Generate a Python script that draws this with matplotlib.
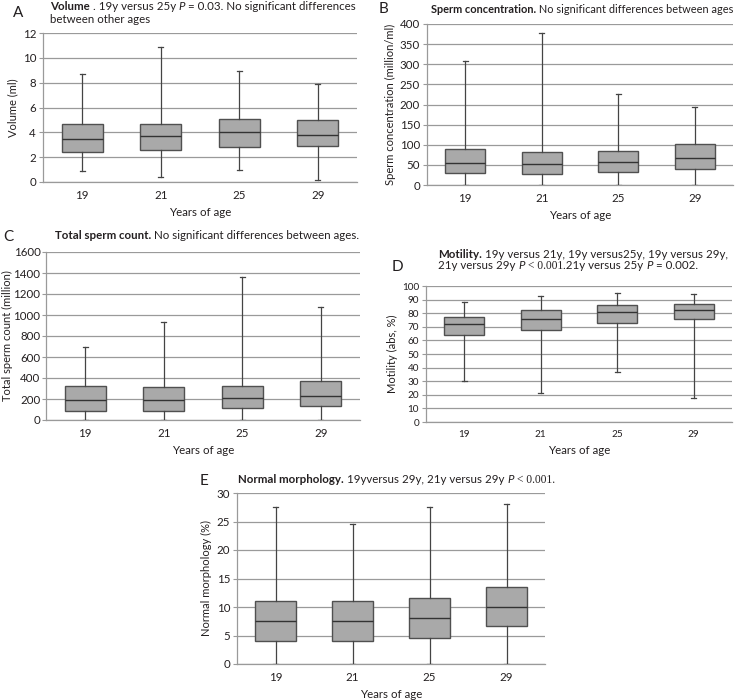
import matplotlib
matplotlib.use("Agg")
import matplotlib.pyplot as plt


# ==========================================================
# Data
# ==========================================================

ages = ["19", "21", "25", "29"]

# each list: whisker low, Q1, median, Q3, whisker high
volume_19 = [0.9, 2.4, 3.5, 4.7, 8.7]
volume_21 = [0.4, 2.6, 3.7, 4.7, 10.9]
volume_25 = [1.0, 2.8, 4.0, 5.1, 8.9]
volume_29 = [0.15, 2.9, 3.8, 5.0, 7.9]

conc_19 = [0, 30, 55, 89, 308]
conc_21 = [0, 28, 52, 82, 377]
conc_25 = [0, 32, 57, 85, 225]
conc_29 = [0, 40, 67, 102, 195]

count_19 = [0, 85, 190, 325, 700]
count_21 = [0, 90, 190, 315, 930]
count_25 = [0, 110, 210, 325, 1365]
count_29 = [0, 135, 225, 370, 1075]

motility_19 = [30, 64, 72, 77, 88]
motility_21 = [21, 68, 76, 82, 93]
motility_25 = [37, 73, 81, 86, 95]
motility_29 = [18, 76, 82, 87, 94]

morph_19 = [0, 4.0, 7.5, 11.0, 27.5]
morph_21 = [0, 4.0, 7.5, 11.0, 24.5]
morph_25 = [0, 4.5, 8.0, 11.5, 27.5]
morph_29 = [0, 6.7, 10.0, 13.5, 28.0]

FONT = "Lato"
plt.rcParams["font.family"] = [FONT, "DejaVu Sans"]

GRID = "#9a9a9a"
EDGE = "#505050"
FILL = "#a9a9a9"
TEXT = "#231f20"


# ==========================================================
# Helpers
# ==========================================================

def to_stats(rows):

    stats = []

    for label, r in zip(ages, rows):
        stats.append({
            "label": label,
            "whislo": r[0],
            "q1": r[1],
            "med": r[2],
            "q3": r[3],
            "whishi": r[4],
        })

    return stats


def draw_panel(fig, rect, rows, ymax, ystep, ylabel, tick_size=8.3,
               ylabelpad=3, ypad=2):

    ax = fig.add_axes(rect)

    n = len(ages)
    positions = [i + 0.5 for i in range(n)]

    ax.bxp(
        to_stats(rows),
        positions=positions,
        widths=0.52,
        capwidths=0.07,
        showfliers=False,
        patch_artist=True,
        boxprops=dict(facecolor=FILL, edgecolor=EDGE, linewidth=1.0),
        medianprops=dict(color="#333333", linewidth=1.0),
        whiskerprops=dict(color="#444444", linewidth=0.9),
        capprops=dict(color="#444444", linewidth=0.9),
        zorder=3,
    )

    ax.set_xlim(0, n)
    ax.set_ylim(0, ymax)

    ticks = [i * ystep for i in range(int(round(ymax / ystep)) + 1)]
    ax.set_yticks(ticks)
    ax.yaxis.grid(True, color=GRID, linewidth=0.9)
    ax.set_axisbelow(True)

    ax.set_xticks(positions)
    ax.set_xticklabels(ages)

    for side in ["top", "right"]:
        ax.spines[side].set_visible(False)
    for side in ["left", "bottom"]:
        ax.spines[side].set_color(GRID)
        ax.spines[side].set_linewidth(0.9)

    ax.tick_params(axis="y", length=3, color=GRID, labelsize=tick_size,
                   labelcolor=TEXT, pad=ypad)
    ax.tick_params(axis="x", length=0, labelsize=tick_size,
                   labelcolor=TEXT, pad=6)

    ax.set_xlabel("Years of age", fontsize=8.3, color=TEXT, labelpad=4)
    ax.set_ylabel(ylabel, fontsize=8.0, color=TEXT, labelpad=ylabelpad)

    return ax


def write_title(fig, x, y, pieces, size=8.3):
    """
    Write a line made of (text, style) pieces, one after another.
    x, y in pixels from the top-left corner.
    """

    W, H = fig.bbox.width, fig.bbox.height
    prev = None

    for txt, style in pieces:

        kw = dict(fontsize=size, color=TEXT, va="baseline")

        if style == "bold":
            kw["fontweight"] = "bold"
        elif style == "italic":
            kw["fontstyle"] = "italic"
        elif style == "serif":
            kw["family"] = ["Liberation Serif", "DejaVu Serif"]

        if prev is None:
            prev = fig.text(x / W, 1 - y / H, txt, **kw)
        else:
            prev = fig.text(0, 0, txt, **kw)
            fig.canvas.draw()
            bb = fig.texts[-2].get_window_extent()
            prev.set_position((bb.x1 / W, 1 - y / H))

    return prev


def letter(fig, x, y, s):

    W, H = fig.bbox.width, fig.bbox.height
    fig.text(x / W, 1 - y / H, s, fontsize=11, color=TEXT, va="baseline")


# ==========================================================
# Figure
# ==========================================================

fig = plt.figure(figsize=(7.4, 7.0), dpi=100)

W, H = 740, 700


def rect(left, top, right, bottom):
    return [left / W, 1 - bottom / H, (right - left) / W, (bottom - top) / H]


draw_panel(fig, rect(43, 33, 357, 182),
           [volume_19, volume_21, volume_25, volume_29],
           12, 2, "Volume (ml)")

draw_panel(fig, rect(427, 24, 733, 185),
           [conc_19, conc_21, conc_25, conc_29],
           400, 50, "Sperm concentration (million/ml)")

draw_panel(fig, rect(46, 252, 360, 420),
           [count_19, count_21, count_25, count_29],
           1600, 200, "Total sperm count (million)", ylabelpad=0, ypad=1)

draw_panel(fig, rect(426, 286, 732, 422),
           [motility_19, motility_21, motility_25, motility_29],
           100, 10, "Motility (abs, %)", tick_size=7.2)

draw_panel(fig, rect(237, 493, 545, 664),
           [morph_19, morph_21, morph_25, morph_29],
           30, 5, "Normal morphology (%)")


# ==========================================================
# Titles
# ==========================================================

letter(fig, 13, 17, "A")
write_title(fig, 50, 10, [
    ("Volume", "bold"),
    (" . 19y versus 25y ", "normal"),
    ("P", "italic"),
    (" = 0.03. No significant differences", "normal"),
])
write_title(fig, 50, 23, [("between other ages", "normal")])

letter(fig, 379, 13, "B")
write_title(fig, 431, 13, [
    ("Sperm concentration.", "bold"),
    (" No significant differences between ages", "normal"),
], size=7.9)

letter(fig, 3, 241, "C")
write_title(fig, 55, 239, [
    ("Total sperm count.", "bold"),
    (" No significant differences between ages.", "normal"),
])

letter(fig, 392, 271, "D")
write_title(fig, 438, 258, [
    ("Motility.", "bold"),
    (" 19y versus 21y, 19y versus25y, 19y versus 29y,", "normal"),
])
write_title(fig, 438, 269, [
    ("21y versus 29y ", "normal"),
    ("P", "italic"),
    (" < 0.001", "serif"),
    (".21y versus 25y ", "normal"),
    ("P", "italic"),
    (" = 0.002.", "normal"),
])

letter(fig, 200, 485, "E")
write_title(fig, 238, 483, [
    ("Normal morphology.", "bold"),
    (" 19yversus 29y, 21y versus 29y ", "normal"),
    ("P", "italic"),
    (" < 0.001.", "serif"),
])

fig.savefig("out.png", dpi=100)
plt.close(fig)
